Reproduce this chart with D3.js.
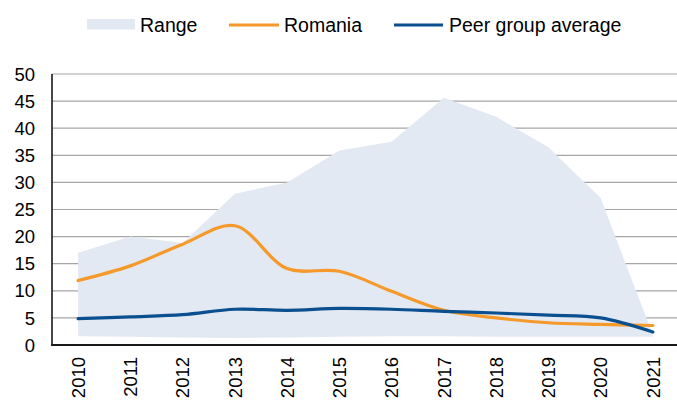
<!DOCTYPE html>
<html>
<head>
<meta charset="utf-8">
<script src="https://cdn.jsdelivr.net/npm/d3@7/dist/d3.min.js"></script>
<style>
  html, body { margin: 0; padding: 0; background: #fff; }
  svg { display: block; font-family: "Liberation Sans", Arial, sans-serif; }
</style>
</head>
<body>
<svg id="chart" width="677" height="401"></svg>
<script>
const years = ["2010","2011","2012","2013","2014","2015","2016","2017","2018","2019","2020","2021"];
const rangeHigh = [17.0, 20.0, 18.8, 27.9, 30.0, 35.9, 37.5, 45.6, 42.1, 36.5, 27.1, 1.9];
const rangeLow  = [1.6, 1.5, 1.4, 1.3, 1.4, 1.5, 1.6, 1.6, 1.5, 1.5, 1.5, 1.5];
const romania   = [11.9, 14.6, 18.6, 22.0, 14.1, 13.6, 9.9, 6.4, 5.0, 4.1, 3.8, 3.6];
const peerAvg   = [4.85, 5.2, 5.6, 6.6, 6.4, 6.75, 6.6, 6.2, 5.9, 5.5, 5.0, 2.4];
const yTicks    = [0, 5, 10, 15, 20, 25, 30, 35, 40, 45, 50];
const legendItems = ["Range", "Romania", "Peer group average"];

const svg = d3.select("#chart");
const mLeft = 52, mRight = 679, mTop = 74, mBottom = 345;

const x = d3.scaleBand().domain(years).range([mLeft, mRight]).padding(0);
const cx = d => x(d) + x.bandwidth() / 2;
const y = d3.scaleLinear().domain([0, 50]).range([mBottom, mTop]);

const colors = { range: "#e3e9f2", romania: "#f5992b", peer: "#0a4f8f" };

// gridlines
svg.append("g")
  .selectAll("line")
  .data(yTicks.filter(t => t > 0))
  .join("line")
  .attr("x1", mLeft).attr("x2", 677)
  .attr("y1", d => y(d)).attr("y2", d => y(d))
  .attr("stroke", "#a6a6a6").attr("stroke-width", 1.2);

// range area
const rangeData = years.map((yr, i) => ({ yr, lo: rangeLow[i], hi: rangeHigh[i] }));
svg.append("path")
  .datum(rangeData)
  .attr("fill", colors.range)
  .attr("d", d3.area().x(d => cx(d.yr)).y0(d => y(d.lo)).y1(d => y(d.hi)));

// lines
const line = d3.line().x(d => cx(d.yr)).y(d => y(d.v)).curve(d3.curveCatmullRom.alpha(0.5));
svg.append("path")
  .datum(years.map((yr, i) => ({ yr, v: romania[i] })))
  .attr("fill", "none").attr("stroke", colors.romania).attr("stroke-width", 3.2)
  .attr("stroke-linecap", "round")
  .attr("d", line);
svg.append("path")
  .datum(years.map((yr, i) => ({ yr, v: peerAvg[i] })))
  .attr("fill", "none").attr("stroke", colors.peer).attr("stroke-width", 3.2)
  .attr("stroke-linecap", "round")
  .attr("d", line);

// axes lines
svg.append("line").attr("x1", mLeft).attr("x2", mLeft).attr("y1", mTop).attr("y2", mBottom + 1)
  .attr("stroke", "#1a1a1a").attr("stroke-width", 1.6);
svg.append("line").attr("x1", mLeft - 0.8).attr("x2", 677).attr("y1", mBottom).attr("y2", mBottom)
  .attr("stroke", "#1a1a1a").attr("stroke-width", 1.8);

// y tick labels
svg.append("g")
  .selectAll("text")
  .data(yTicks)
  .join("text")
  .attr("x", 35).attr("y", d => y(d))
  .attr("dy", "0.36em")
  .attr("text-anchor", "end")
  .attr("font-size", 18.5).attr("fill", "#000")
  .text(d => d);

// x tick labels rotated
svg.append("g")
  .selectAll("text")
  .data(years)
  .join("text")
  .attr("transform", d => `translate(${cx(d)},357) rotate(-90)`)
  .attr("dy", "0.36em")
  .attr("text-anchor", "end")
  .attr("font-size", 18.5).attr("fill", "#000")
  .text(d => d);

// legend
const lg = svg.append("g");
lg.append("rect").attr("x", 87).attr("y", 19).attr("width", 48).attr("height", 10.5).attr("fill", colors.range);
lg.append("text").attr("x", 140).attr("y", 31.5).attr("font-size", 19.5).text(legendItems[0]);
lg.append("line").attr("x1", 229).attr("x2", 279).attr("y1", 25).attr("y2", 25)
  .attr("stroke", colors.romania).attr("stroke-width", 3.2);
lg.append("text").attr("x", 284).attr("y", 31.5).attr("font-size", 19.5).text(legendItems[1]);
lg.append("line").attr("x1", 394).attr("x2", 443).attr("y1", 25).attr("y2", 25)
  .attr("stroke", colors.peer).attr("stroke-width", 3.2);
lg.append("text").attr("x", 449).attr("y", 31.5).attr("font-size", 19.5).text(legendItems[2]);
</script>
</body>
</html>
